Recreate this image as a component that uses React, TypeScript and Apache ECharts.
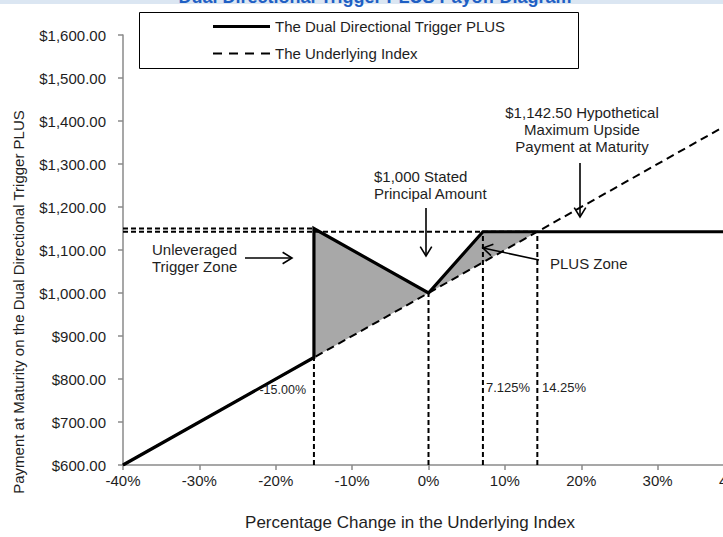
import React, { useEffect, useRef } from "react";
import * as echarts from "echarts";

// ---- data ----
const titleText = "Dual Directional Trigger PLUS Payoff Diagram";
const xName = "Percentage Change in the Underlying Index";
const yName = "Payment at Maturity on the Dual Directional Trigger PLUS";
const seriesNames = ["The Dual Directional Trigger PLUS", "The Underlying Index"];
const xMin = -40;
const xMax = 40;
const xStep = 10;
const yMin = 600;
const yMax = 1600;
const yStep = 100;
const plusPayoff = [[-40, 600], [-15, 850], [-15, 1150], [0, 1000], [7.125, 1142.5], [40, 1142.5]];
const underlyingIndex = [[-40, 600], [40, 1400]];
const triggerLevel = [[-40, 1150], [-15, 1150]];
const capLevel = [[-40, 1142.5], [14.25, 1142.5]];
const guideMinus15 = [[-15, 600], [-15, 850]];
const guideZero = [[0, 600], [0, 1000]];
const guideCapStart = [[7.125, 600], [7.125, 1142.5]];
const guideCapEnd = [[14.25, 600], [14.25, 1142.5]];
const triggerZone = [[-15, 850], [-15, 1150], [0, 1000]];
const plusZone = [[0, 1000], [7.125, 1142.5], [14.25, 1142.5]];
const shadedZones = [triggerZone, plusZone];
const noteStated = "$1,000 Stated\nPrincipal Amount";
const noteMax = "$1,142.50 Hypothetical\nMaximum Upside\nPayment at Maturity";
const noteTrigger = "Unleveraged\nTrigger Zone";
const notePlus = "PLUS Zone";
const labelMinus15 = "-15.00%";
const labelCapStart = "7.125%";
const labelCapEnd = "14.25%";

const FONT = "'Liberation Sans', Arial, sans-serif";
const TXT = "#1e1e1e";

function arrow(x1: number, y1: number, x2: number, y2: number) {
  const ang = Math.atan2(y2 - y1, x2 - x1);
  const L = 11;
  const a = 0.55;
  const p1 = [x2 - L * Math.cos(ang - a), y2 - L * Math.sin(ang - a)];
  const p2 = [x2 - L * Math.cos(ang + a), y2 - L * Math.sin(ang + a)];
  return {
    type: "group",
    silent: true,
    children: [
      { type: "line", shape: { x1, y1, x2, y2 }, style: { stroke: "#000", lineWidth: 1.6 }, z: 100 },
      { type: "polyline", shape: { points: [p1, [x2, y2], p2] }, style: { stroke: "#000", lineWidth: 1.6, fill: null }, z: 100 },
    ],
  };
}

function text(t: string, x: number, y: number, opts: any = {}) {
  return {
    type: "text",
    x,
    y,
    rotation: opts.rotation || 0,
    silent: true,
    style: {
      text: t,
      font: `${opts.weight || "normal"} ${opts.size || 15}px ${FONT}`,
      fill: opts.fill || TXT,
      align: opts.align || "left",
      verticalAlign: opts.vAlign || "middle",
      lineHeight: opts.lineHeight || 17,
    },
    z: 100,
  };
}

function dashedSeries(data: number[][], dash: number[] = [5, 3], width = 2) {
  return {
    type: "line",
    data,
    symbol: "none",
    silent: true,
    lineStyle: { color: "#000", width, type: dash },
    z: 3,
  };
}

export default function App() {
  const ref = useRef<HTMLDivElement>(null);
  useEffect(() => {
    document.body.style.margin = "0";
    const chart = echarts.init(ref.current!, null, { renderer: "svg" });
    const option: any = {
      animation: false,
      backgroundColor: "#fff",
      textStyle: { fontFamily: FONT },
      grid: { left: 123, width: 611, top: 35, height: 430, containLabel: false, outerBoundsMode: "none" },
      xAxis: {
        type: "value",
        min: xMin,
        max: xMax,
        interval: xStep,
        axisLine: { show: true, onZero: false, lineStyle: { color: "#8a8a8a", width: 1.5 } },
        axisTick: { show: true, length: 5, lineStyle: { color: "#8a8a8a", width: 1.5 } },
        splitLine: { show: false },
        axisLabel: {
          formatter: (v: number) => `${v}%`,
          color: TXT,
          fontSize: 15,
          fontFamily: FONT,
          margin: 8,
          showMaxLabel: true,
        },
      },
      yAxis: {
        type: "value",
        min: yMin,
        max: yMax,
        interval: yStep,
        axisLine: { show: true, onZero: false, lineStyle: { color: "#8a8a8a", width: 1.5 } },
        axisTick: { show: true, length: 5, lineStyle: { color: "#8a8a8a", width: 1.5 } },
        splitLine: { show: false },
        axisLabel: {
          formatter: (v: number) =>
            "$" + v.toLocaleString("en-US", { minimumFractionDigits: 2, maximumFractionDigits: 2 }),
          color: TXT,
          fontSize: 15,
          fontFamily: FONT,
          margin: 17,
        },
      },
      series: [
        {
          type: "custom",
          silent: true,
          z: 1,
          data: shadedZones.map((zone) => zone[0]),
          encode: { x: 0, y: 1 },
          renderItem: (params: any, api: any) => {
            const pts = shadedZones[params.dataIndex].map((p) => api.coord(p));
            return { type: "polygon", shape: { points: pts }, style: { fill: "#a8a8a8", stroke: "none" } };
          },
        },
        dashedSeries(triggerLevel),
        dashedSeries(capLevel),
        dashedSeries(guideMinus15),
        dashedSeries(guideZero),
        dashedSeries(guideCapStart),
        dashedSeries(guideCapEnd),
        {
          name: seriesNames[1],
          type: "line",
          data: underlyingIndex,
          symbol: "none",
          silent: true,
          lineStyle: { color: "#000", width: 2, type: [8, 5] },
          z: 4,
        },
        {
          name: seriesNames[0],
          type: "line",
          data: plusPayoff,
          symbol: "none",
          silent: true,
          lineStyle: { color: "#000", width: 3.2, join: "miter" },
          z: 5,
        },
      ],
      graphic: [
        { type: "rect", shape: { x: 0, y: 0, width: 723, height: 4 }, style: { fill: "#dbe6f2" }, z: 90 },
        text(titleText, 375, 6, { weight: "bold", size: 18, fill: "#1f5fc4", align: "center", vAlign: "bottom", lineHeight: 18 }),
        { type: "rect", shape: { x: 139.5, y: 12.5, width: 439, height: 56 }, style: { fill: "#fff", stroke: "#000", lineWidth: 1 }, z: 90 },
        { type: "line", shape: { x1: 213, y1: 26.5, x2: 270, y2: 26.5 }, style: { stroke: "#000", lineWidth: 3 }, z: 95 },
        text(seriesNames[0], 275, 26),
        { type: "line", shape: { x1: 213, y1: 53.5, x2: 270, y2: 53.5 }, style: { stroke: "#000", lineWidth: 2, lineDash: [9, 7] }, z: 95 },
        text(seriesNames[1], 275, 53),
        text(yName, 18, 302, { rotation: Math.PI / 2, align: "center" }),
        text(xName, 410, 522, { align: "center", size: 17 }),
        text(noteStated, 374, 184.5),
        arrow(426, 208, 426, 256),
        text(noteMax, 582, 129, { align: "center" }),
        arrow(580, 163, 580, 217),
        text(noteTrigger, 152, 258),
        arrow(245, 258, 292, 258),
        text(notePlus, 550, 263),
        arrow(539, 260, 483, 248),
        text(labelMinus15, 306, 390, { align: "right", size: 12.5 }),
        text(labelCapStart, 486, 387, { size: 13 }),
        text(labelCapEnd, 542, 387, { size: 13 }),
      ],
    };
    chart.setOption(option);
    return () => chart.dispose();
  }, []);
  return <div ref={ref} style={{ position: "fixed", left: 0, top: 0, width: 723, height: 537 }} />;
}
